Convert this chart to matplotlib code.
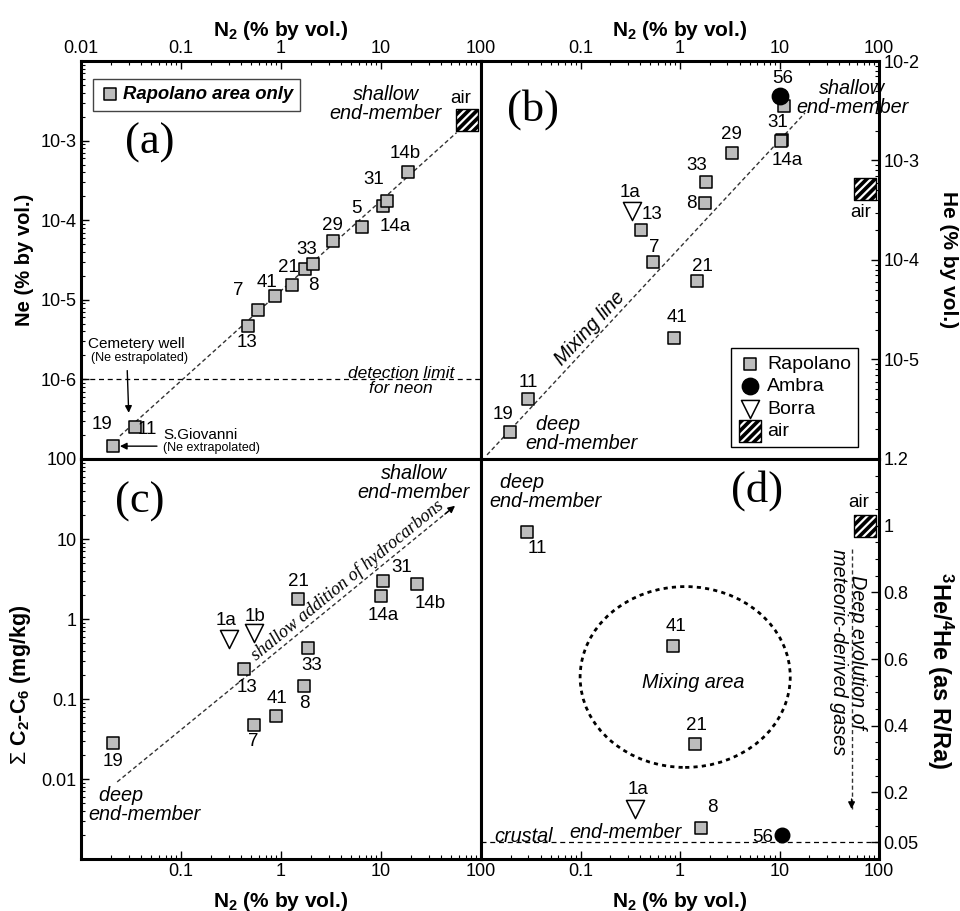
"""
four panel N2 plot: Ne, He, C2-C6 and 3He/4He against N2
"""

import math
import numpy as np
import matplotlib
matplotlib.use('Agg')
import matplotlib.pyplot as plt
import matplotlib.ticker as mticker
from matplotlib.patches import Ellipse

plt.rcParams['font.family'] = ['Liberation Sans', 'DejaVu Sans']
plt.rcParams['mathtext.fontset'] = 'custom'
plt.rcParams['mathtext.rm'] = 'Liberation Sans'
plt.rcParams['mathtext.it'] = 'Liberation Sans:italic'
plt.rcParams['mathtext.bf'] = 'Liberation Sans:bold'
plt.rcParams['hatch.color'] = 'white'
plt.rcParams['hatch.linewidth'] = 1.6

# ---- data ----
# air end-member
AIR_N2 = 73
AIR_NE = 1.8e-3
AIR_HE = 5.2e-4
AIR_RRA = 1.0

# (a) Ne vs N2, Rapolano only
a_names = ['19', '11', '13', '7', '41', '21', '8', '33', '29', '5', '14a', '31', '14b']
a_n2 = [0.021, 0.035, 0.47, 0.59, 0.87, 1.29, 1.74, 2.1, 3.3, 6.5, 10.5, 11.5, 18.6]
a_ne = [1.45e-7, 2.5e-7, 4.7e-6, 7.4e-6, 1.12e-5, 1.55e-5, 2.45e-5, 2.8e-5,
        5.5e-5, 8.3e-5, 1.5e-4, 1.76e-4, 4.0e-4]
a_line_n2 = [0.0245, 57]
a_line_ne = [1.95e-7, 1.26e-3]
NE_DETECTION = 1e-6

# (b) He vs N2
b_names = ['19', '11', '41', '7', '21', '13', '8', '33', '29', '31', '14a', '']
b_n2 = [0.0195, 0.030, 0.87, 0.54, 1.48, 0.41, 1.78, 1.82, 3.3, 10.5, 10.3, 11.2]
b_he = [1.85e-6, 4.0e-6, 1.66e-5, 9.5e-5, 6.1e-5, 2.0e-4, 3.7e-4, 6.1e-4,
        1.2e-3, 1.62e-3, 1.58e-3, 3.5e-3]
b_borra_names = ['1a']
b_borra_n2 = [0.33]
b_borra_he = [3.1e-4]
b_ambra_names = ['56']
b_ambra_n2 = [10.0]
b_ambra_he = [4.5e-3]
b_line_n2 = [0.0115, 18]
b_line_he = [1.1e-6, 3e-3]

# (c) sum C2-C6 vs N2
c_names = ['19', '13', '7', '41', '8', '33', '21', '14a', '31', '14b']
c_n2 = [0.021, 0.43, 0.54, 0.89, 1.70, 1.87, 1.48, 10.0, 10.5, 22.8]
c_hc = [0.028, 0.235, 0.048, 0.062, 0.147, 0.44, 1.8, 1.94, 3.0, 2.7]
c_borra_names = ['1a', '1b']
c_borra_n2 = [0.30, 0.54]
c_borra_hc = [0.57, 0.66]
c_line_n2 = [0.023, 55]
c_line_hc = [0.0092, 26]

# (d) 3He/4He vs N2
d_names = ['11', '41', '21', '8']
d_n2 = [0.029, 0.85, 1.41, 1.62]
d_rra = [0.98, 0.64, 0.345, 0.093]
d_borra_names = ['1a']
d_borra_n2 = [0.35]
d_borra_rra = [0.15]
d_ambra_names = ['56']
d_ambra_n2 = [10.7]
d_ambra_rra = [0.072]
d_arrow_n2 = [53, 53]
d_arrow_rra = [0.93, 0.15]
CRUSTAL_RRA = 0.05

# label offsets (pixels, from marker centre)
a_off = [(-11, 22), (12, -2), (-1, -17), (-20, 20), (-8, 13), (-4, 17), (8, -17),
         (-7, 15), (0, 15), (-6, 18), (12, -20), (-13, 21), (-3, 19)]
b_off = [(-7, 18), (0, 17), (3, 20), (1, 15), (5, 15), (11, 16), (-14, 0),
         (-9, 16), (0, 18), (-4, 17), (6, -20), (0, 0)]
c_off = [(0, -18), (3, -18), (-1, -17), (1, 17), (0, -18), (4, -18), (0, 17),
         (2, -20), (19, 13), (13, -19)]
d_off = [(10, -16), (3, 19), (2, 18), (12, 20)]

GREY = '#bdbdbd'
DASH = (0, (3, 2))
N2_LABEL = r'$\mathbf{N_2}$ (% by vol.)'
IT = 14.3


def style_axis(ax, xlabels):
    ax.set_xscale('log')
    ax.set_xlim(0.01, 100)
    ax.set_xticks([0.01, 0.1, 1, 10, 100], labels=xlabels)
    ax.xaxis.set_minor_locator(mticker.LogLocator(base=10, subs=np.arange(2, 10), numticks=50))
    ax.xaxis.set_minor_formatter(mticker.NullFormatter())
    for sp in ax.spines.values():
        sp.set_linewidth(2.2)
    ax.tick_params(which='both', direction='in', labelsize=13, pad=3)
    ax.tick_params(which='major', length=6, width=1)
    ax.tick_params(which='minor', length=3, width=0.8)


def log_y(ax, lo, hi, labels):
    ax.set_yscale('log')
    ax.set_ylim(lo, hi)
    decades = [10.0 ** k for k in range(int(round(math.log10(lo))), int(round(math.log10(hi))) + 1)]
    ax.set_yticks(decades, labels=labels)
    ax.yaxis.set_minor_locator(mticker.LogLocator(base=10, subs=np.arange(2, 10), numticks=50))
    ax.yaxis.set_minor_formatter(mticker.NullFormatter())


def rapolano(ax, x, y):
    return ax.scatter(x, y, marker='s', s=70, c=GREY, edgecolors='k', linewidths=1.1, zorder=4)


def borra(ax, x, y):
    return ax.scatter(x, y, marker='v', s=170, facecolors='white', edgecolors='k', linewidths=1.1, zorder=4)


def ambra(ax, x, y, size):
    return ax.scatter(x, y, marker='o', s=size, c='black', edgecolors='k', zorder=4)


def air(ax, x, y, size=250):
    fill = ax.scatter([x], [y], marker='s', s=size, facecolors='black', edgecolors='white',
                      hatch='////', linewidths=0, zorder=4)
    edge = ax.scatter([x], [y], marker='s', s=size, facecolors='none', edgecolors='black',
                      linewidths=1.0, zorder=5)
    return (fill, edge)


def label_points(ax, xs, ys, names, offsets, size=13.5):
    for x, y, n, (dx, dy) in zip(xs, ys, names, offsets):
        if n:
            ax.annotate(n, (x, y), xytext=(dx, dy), textcoords='offset pixels',
                        ha='center', va='center', fontsize=size, zorder=6)


def line_angle(ax, xs, ys):
    p1 = ax.transData.transform((xs[0], ys[0]))
    p2 = ax.transData.transform((xs[1], ys[1]))
    return math.degrees(math.atan2(p2[1] - p1[1], p2[0] - p1[0]))


def along(xs, ys, t):
    lx = math.log10(xs[0]) + t * (math.log10(xs[1]) - math.log10(xs[0]))
    ly = math.log10(ys[0]) + t * (math.log10(ys[1]) - math.log10(ys[0]))
    return 10 ** lx, 10 ** ly


fig = plt.figure(figsize=(9.6, 9.11), dpi=100)
L, M, R = 81 / 960, 481 / 960, 879 / 960
T, MID, B = 1 - 61 / 911, 1 - 459 / 911, 1 - 859 / 911
ax_a = fig.add_axes([L, MID, M - L, T - MID])
ax_b = fig.add_axes([M, MID, R - M, T - MID])
ax_c = fig.add_axes([L, B, M - L, MID - B])
ax_d = fig.add_axes([M, B, R - M, MID - B])

style_axis(ax_a, ['0.01', '0.1', '1', '10', '100'])
style_axis(ax_b, ['', '0.1', '1', '10', '100'])
style_axis(ax_c, ['', '0.1', '1', '10', '100'])
style_axis(ax_d, ['', '0.1', '1', '10', '100'])
ax_a.xaxis.tick_top()
ax_b.xaxis.tick_top()
ax_b.yaxis.tick_right()
ax_d.yaxis.tick_right()

log_y(ax_a, 1e-7, 1e-2, ['', '10-6', '10-5', '10-4', '10-3', ''])
log_y(ax_b, 1e-6, 1e-2, ['', '10-5', '10-4', '10-3', '10-2'])
log_y(ax_c, 1e-3, 100, ['', '0.01', '0.1', '1', '10', '100'])
ax_d.set_ylim(0, 1.2)
ax_d.set_yticks([0.05, 0.2, 0.4, 0.6, 0.8, 1, 1.2], labels=['0.05', '0.2', '0.4', '0.6', '0.8', '1', '1.2'])
ax_d.yaxis.set_minor_locator(mticker.MultipleLocator(0.05))

# axis titles
for ax in (ax_a, ax_b):
    ax.xaxis.set_label_position('top')
    ax.set_xlabel(N2_LABEL, fontsize=15, fontweight='bold', labelpad=3)
for ax in (ax_c, ax_d):
    ax.set_xlabel(N2_LABEL, fontsize=15, fontweight='bold', labelpad=7)
ax_a.set_ylabel('Ne (% by vol.)', fontsize=14.5, fontweight='bold', labelpad=5)
ax_c.set_ylabel(r'$\Sigma$ $\mathbf{C_2}$-$\mathbf{C_6}$ (mg/kg)', fontsize=15.5, fontweight='bold')
ax_c.yaxis.set_label_coords(-0.12, 0.435)
ax_b.yaxis.set_label_position('right')
ax_b.set_ylabel('He (% by vol.)', fontsize=15, fontweight='bold', rotation=270, va='bottom', labelpad=14)
ax_d.yaxis.set_label_position('right')
ax_d.set_ylabel(r'$\mathbf{^{3}He/^{4}He}$ (as R/Ra)', fontsize=17, fontweight='bold',
                rotation=270, va='bottom')
ax_d.yaxis.set_label_coords(1.116, 0.472)

panel_font = dict(family=['Liberation Serif', 'DejaVu Serif'], fontsize=32, ha='center', va='center')
ax_a.text(0.1725, 0.794, '(a)', transform=ax_a.transAxes, **panel_font)
ax_b.text(0.131, 0.877, '(b)', transform=ax_b.transAxes, **panel_font)
ax_c.text(0.1475, 0.894, '(c)', transform=ax_c.transAxes, **panel_font)
ax_d.text(0.693, 0.92, '(d)', transform=ax_d.transAxes, **panel_font)

# ---- (a) ----
ax_a.plot(a_line_n2, a_line_ne, color='#333333', lw=1, linestyle=DASH, zorder=2)
ax_a.axhline(NE_DETECTION, color='k', lw=0.9, linestyle=(0, (4, 3)), zorder=2)
rap_a = rapolano(ax_a, a_n2, a_ne)
label_points(ax_a, a_n2, a_ne, a_names, a_off)
air(ax_a, AIR_N2, AIR_NE)
ax_a.annotate('air', (AIR_N2, AIR_NE), xytext=(-7, 22), textcoords='offset pixels',
              ha='center', va='center', fontsize=13.5)
ax_a.text(40.7, 2.9e-3, 'shallow\nend-member', style='italic', fontsize=IT,
          ha='right', va='center', multialignment='center', linespacing=1.0)
ax_a.text(15.8, 9.5e-7, 'detection limit\nfor neon', style='italic', fontsize=12.5,
          ha='center', va='center', linespacing=1.05)
ax_a.text(0.0117, 2.8e-6, 'Cemetery well', fontsize=11, ha='left', va='center')
ax_a.text(0.0125, 1.85e-6, '(Ne estrapolated)', fontsize=9, ha='left', va='center')
ax_a.annotate('', xy=(0.030, 3.8e-7), xytext=(0.029, 1.29e-6),
              arrowprops=dict(arrowstyle='-|>', lw=1, color='k', mutation_scale=10,
                              shrinkA=0, shrinkB=0))
ax_a.text(0.066, 2.0e-7, 'S.Giovanni', fontsize=11, ha='left', va='center')
ax_a.text(0.066, 1.38e-7, '(Ne extrapolated)', fontsize=9, ha='left', va='center')
ax_a.annotate('', xy=(0.0245, 1.45e-7), xytext=(0.0575, 1.45e-7),
              arrowprops=dict(arrowstyle='-|>', lw=1, color='k', mutation_scale=10,
                              shrinkA=0, shrinkB=0))
ax_a.legend([rap_a], ['Rapolano area only'], loc='upper left', bbox_to_anchor=(0.03, 0.955),
            borderaxespad=0, frameon=True, fancybox=False, edgecolor='#444444', framealpha=1,
            prop=dict(style='italic', weight='bold', size=13.3), handletextpad=0.2,
            borderpad=0.4, handlelength=1.0, scatterpoints=1)

# ---- (b) ----
ax_b.plot(b_line_n2, b_line_he, color='#333333', lw=1, linestyle=DASH, zorder=2)
rap_b = rapolano(ax_b, b_n2, b_he)
label_points(ax_b, b_n2, b_he, b_names, b_off)
bor_b = borra(ax_b, b_borra_n2, b_borra_he)
label_points(ax_b, b_borra_n2, b_borra_he, b_borra_names, [(-2, 19)])
amb_b = ambra(ax_b, b_ambra_n2, b_ambra_he, 140)
label_points(ax_b, b_ambra_n2, b_ambra_he, b_ambra_names, [(3, 17)])
air_b = air(ax_b, AIR_N2, AIR_HE)
ax_b.annotate('air', (AIR_N2, AIR_HE), xytext=(-5, -24), textcoords='offset pixels',
              ha='center', va='center', fontsize=13.5)
ax_b.text(0.124, 2.04e-5, 'Mixing line', style='italic', fontsize=IT, ha='center', va='center',
          rotation=line_angle(ax_b, b_line_n2, b_line_he), rotation_mode='anchor')
ax_b.text(53.5, 4.2e-3, 'shallow\nend-member', style='italic', fontsize=IT, ha='center',
          va='center', linespacing=1.0, clip_on=False)
ax_b.text(0.0277, 1.8e-6, '  deep\nend-member', style='italic', fontsize=IT, ha='left',
          va='center', linespacing=1.0)
ax_b.legend([rap_b, amb_b, bor_b, air_b], ['Rapolano', 'Ambra', 'Borra', 'air'],
            loc='lower right', bbox_to_anchor=(0.947, 0.03), borderaxespad=0, frameon=True,
            fancybox=False, edgecolor='k', framealpha=1, fontsize=14, handletextpad=0.3,
            labelspacing=0.25, borderpad=0.35, handlelength=1.2, scatterpoints=1)

# ---- (c) ----
ax_c.plot(c_line_n2, c_line_hc, color='#333333', lw=1, linestyle=DASH, zorder=2)
ax_c.annotate('', xy=(c_line_n2[1], c_line_hc[1]), xytext=along(c_line_n2, c_line_hc, 0.97),
              arrowprops=dict(arrowstyle='-|>', lw=1, color='k', mutation_scale=10,
                              shrinkA=0, shrinkB=0))
rapolano(ax_c, c_n2, c_hc)
label_points(ax_c, c_n2, c_hc, c_names, c_off)
borra(ax_c, c_borra_n2, c_borra_hc)
label_points(ax_c, c_borra_n2, c_borra_hc, c_borra_names, [(-3, 18), (1, 17)])
tx, ty = along(c_line_n2, c_line_hc, 0.42)
ax_c.annotate('shallow addition of hydrocarbons', (tx, ty), xytext=(0, 2), textcoords='offset pixels',
              family=['Liberation Serif', 'DejaVu Serif'], style='italic', fontsize=13,
              ha='left', va='bottom', rotation=line_angle(ax_c, c_line_n2, c_line_hc),
              rotation_mode='anchor')
ax_c.text(77.6, 50, 'shallow\nend-member', style='italic', fontsize=IT, ha='right',
          va='center', multialignment='center', linespacing=1.0)
ax_c.text(0.0118, 4.7e-3, '  deep\nend-member', style='italic', fontsize=IT, ha='left',
          va='center', linespacing=1.0)

# ---- (d) ----
ax_d.axhline(CRUSTAL_RRA, color='k', lw=0.9, linestyle=(0, (4, 3)), zorder=2)
ax_d.plot(d_arrow_n2, d_arrow_rra, color='#333333', lw=1, linestyle=DASH, zorder=2)
ax_d.annotate('', xy=(d_arrow_n2[1], d_arrow_rra[1]), xytext=(d_arrow_n2[1], d_arrow_rra[1] + 0.03),
              arrowprops=dict(arrowstyle='-|>', lw=1, color='k', mutation_scale=10,
                              shrinkA=0, shrinkB=0))
rapolano(ax_d, d_n2, d_rra)
label_points(ax_d, d_n2, d_rra, d_names, d_off)
borra(ax_d, d_borra_n2, d_borra_rra)
label_points(ax_d, d_borra_n2, d_borra_rra, d_borra_names, [(3, 19)])
ambra(ax_d, d_ambra_n2, d_ambra_rra, 110)
label_points(ax_d, d_ambra_n2, d_ambra_rra, d_ambra_names, [(-20, -2)])
air(ax_d, AIR_N2, AIR_RRA)
ax_d.annotate('air', (AIR_N2, AIR_RRA), xytext=(-7, 23), textcoords='offset pixels',
              ha='center', va='center', fontsize=13.5)
ax_d.add_patch(Ellipse((0.513, 0.455), 0.528, 0.452, transform=ax_d.transAxes, fill=False,
                       edgecolor='k', lw=2, linestyle=(0, (1.5, 1.5))))
ax_d.text(1.35, 0.53, 'Mixing area', style='italic', fontsize=IT, ha='center', va='center')
ax_d.text(48.6, 0.62, 'Deep evolution of\nmeteoric-derived gases', style='italic', fontsize=IT,
          ha='center', va='center', rotation=270, multialignment='center', linespacing=1.0)
ax_d.text(0.0265, 0.066, 'crustal', style='italic', fontsize=IT, ha='center', va='center')
ax_d.text(0.286, 0.078, 'end-member', style='italic', fontsize=IT, ha='center', va='center')
ax_d.text(0.0121, 1.10, '  deep\nend-member', style='italic', fontsize=IT, ha='left',
          va='center', linespacing=1.0)

fig.savefig('out.png', dpi=100)
